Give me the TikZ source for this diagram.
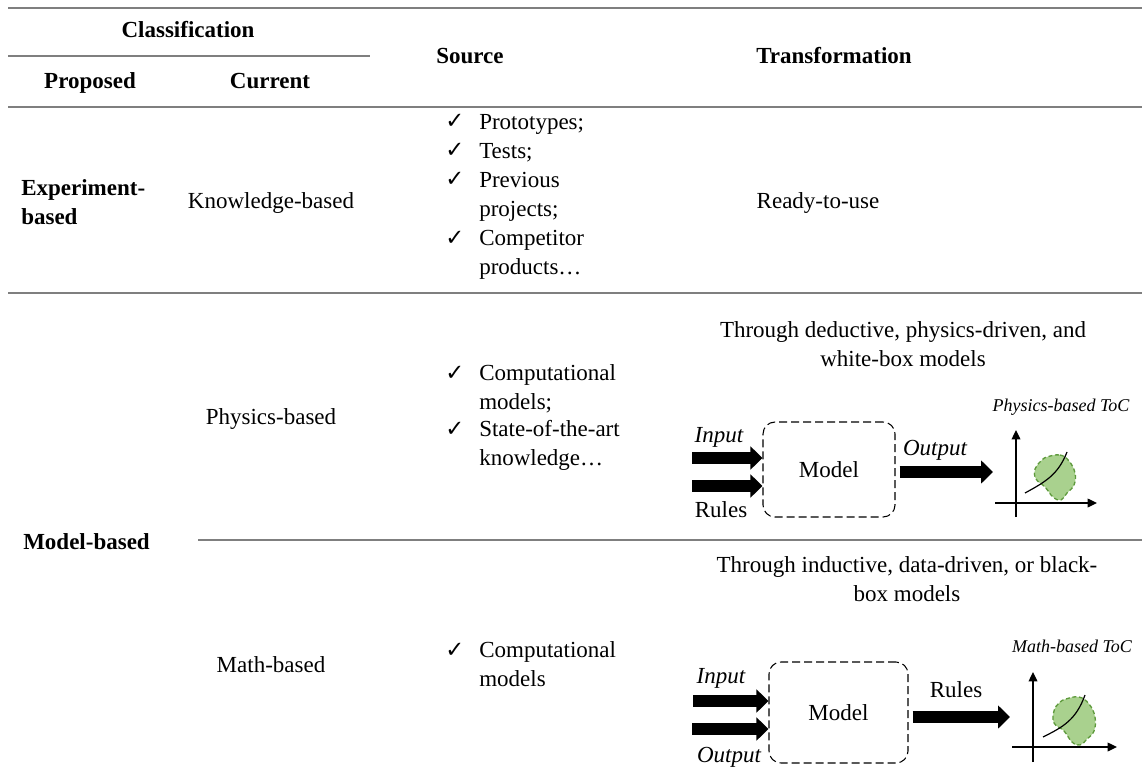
\documentclass[tikz,border=0pt]{standalone}
\usepackage{fontspec}
\setmainfont{Liberation Serif}
\newfontfamily\checkfont{DejaVu Sans}
\usetikzlibrary{arrows.meta}
\newcommand\bodysize{\fontsize{17.25pt}{21.75pt}\selectfont}
\newcommand\tocsize{\fontsize{13.5pt}{16pt}\selectfont}
\newcommand\lnhead{\rule{0pt}{12pt}}
\newcommand\tick{{\checkfont\fontsize{17pt}{20pt}\selectfont ✓}}
\definecolor{rulecol}{HTML}{7F7F7F}
\definecolor{blobfill}{HTML}{A9D18E}
\definecolor{blobline}{HTML}{5E9A3C}
\begin{document}
\begin{tikzpicture}[x=0.75pt,y=-0.75pt,
  tablerule/.style={draw=rulecol, line width=1.5pt},
  txt/.style={inner sep=0pt, font=\bodysize},
  hdr/.style={inner sep=0pt, font=\bodysize\bfseries},
  lbl/.style={inner sep=0pt, font=\bodysize\itshape},
  toc/.style={inner sep=0pt, font=\tocsize\itshape},
  modelbox/.style={draw, dash pattern=on 6pt off 3pt, rounded corners=9pt,
    line width=0.8pt, inner sep=0pt, font=\bodysize},
  fatarrow/.style={line width=8.5pt, -{Triangle[length=9pt,width=17pt]}},
  axis/.style={line width=1pt, -{Triangle[length=7pt,width=6.5pt]}},
  blob/.style={draw=blobline, fill=blobfill, dash pattern=on 3pt off 2pt, line width=1pt},
  trend/.style={line width=0.9pt}]
\useasboundingbox (0,0) rectangle (1142,781);

% table rules
\draw[tablerule] (8,8) -- (1142,8);
\draw[tablerule] (8,56) -- (370,56);
\draw[tablerule] (8,107) -- (1142,107);
\draw[tablerule] (8,293) -- (1142,293);
\draw[tablerule] (198,540) -- (1142,540);

% header
\node[hdr, anchor=base] (hclass) at (188,38) {Classification};
\node[hdr, anchor=base] (hprop) at (90,89) {Proposed};
\node[hdr, anchor=base] (hcurr) at (270,89) {Current};
\node[hdr, anchor=base] (hsrc) at (470,64) {Source};
\node[hdr, anchor=base] (htrans) at (834,64) {Transformation};

% experiment-based row
\node[hdr, anchor=north west, align=left] (pexp) at (21,179) {\lnhead Experiment-\\based};
\node[txt, anchor=base] (cknow) at (271,209) {Knowledge-based};
\node[txt, anchor=base west] (k1) at (445,129) {\tick};
\node[txt, anchor=north west, align=left] (s1) at (479,113) {\lnhead Prototypes;};
\node[txt, anchor=base west] (k2) at (445,158) {\tick};
\node[txt, anchor=north west, align=left] (s2) at (479,142) {\lnhead Tests;};
\node[txt, anchor=base west] (k3) at (445,187) {\tick};
\node[txt, anchor=north west, align=left] (s3) at (479,171) {\lnhead Previous\\projects;};
\node[txt, anchor=base west] (k4) at (445,245) {\tick};
\node[txt, anchor=north west, align=left] (s4) at (479,229) {\lnhead Competitor\\products…};
\node[txt, anchor=base] (tready) at (818,209) {Ready-to-use};

% model-based rows
\node[hdr, anchor=base west] (pmodel) at (23,549) {Model-based};

% physics-based
\node[txt, anchor=base] (cphys) at (271,424) {Physics-based};
\node[txt, anchor=base west] (k5) at (445,380) {\tick};
\node[txt, anchor=north west, align=left] (s5) at (479,364) {\lnhead Computational\\models;};
\node[txt, anchor=base west] (k6) at (445,436) {\tick};
\node[txt, anchor=north west, align=left] (s6) at (479,420) {\lnhead State-of-the-art\\knowledge…};
\node[txt, anchor=north, align=center] (tphys) at (903,321) {\lnhead Through deductive, physics-driven, and\\white-box models};

\node[modelbox, minimum width=99pt, minimum height=71.25pt] (m1) at (829,469.5) {Model};
\coordinate (pin1) at (692,458);
\coordinate (pin2) at (692,486);
\coordinate (pout) at (993,472);
\draw[fatarrow] (pin1) -- (pin1 -| m1.west);
\draw[fatarrow] (pin2) -- (pin2 -| m1.west);
\draw[fatarrow, shorten <=3pt] (pout -| m1.east) -- (pout);
\node[lbl] (linp1) at (719,437) {Input};
\node[txt] (lrul1) at (721,510) {Rules};
\node[lbl] (lout1) at (935,450) {Output};
\node[toc] (ltoc1) at (1061,407) {Physics-based ToC};
\draw[axis] (1016,517) -- (1016,430);
\draw[axis] (995,503) -- (1097,503);
\draw[blob] plot[smooth cycle, tension=0.7] coordinates {
  (1047,457) (1060,455) (1069,461) (1075,473) (1074,485) (1067,493)
  (1061,500) (1053,497) (1045,487) (1036,479) (1035,469) (1041,461)};
\draw[trend] (1025,493) .. controls (1045,482) and (1058,475) .. (1067,452);

% math-based
\node[txt, anchor=base] (cmath) at (271,672) {Math-based};
\node[txt, anchor=base west] (k7) at (445,657) {\tick};
\node[txt, anchor=north west, align=left] (s7) at (479,641) {\lnhead Computational\\models};
\node[txt, anchor=north, align=center] (tmath) at (907,556) {\lnhead Through inductive, data-driven, or black-\\box models};

\node[modelbox, minimum width=104.25pt, minimum height=75.75pt] (m2) at (838.5,712.5) {Model};
\coordinate (pin3) at (693,701);
\coordinate (pin4) at (692,729);
\coordinate (pout2) at (1010,717);
\draw[fatarrow] (pin3) -- (pin3 -| m2.west);
\draw[fatarrow] (pin4) -- (pin4 -| m2.west);
\draw[fatarrow, shorten <=3pt] (pout2 -| m2.east) -- (pout2);
\node[lbl] (linp2) at (721,678) {Input};
\node[lbl] (lout2) at (729,757) {Output};
\node[txt] (lrul2) at (956,690) {Rules};
\node[toc] (ltoc2) at (1072,646) {Math-based ToC};
\draw[axis] (1033,762) -- (1033,672);
\draw[axis] (1012,747) -- (1117,747);
\draw[blob] plot[smooth cycle, tension=0.7] coordinates {
  (1066,699) (1079,697) (1089,704) (1095,717) (1094,731) (1087,739)
  (1080,745) (1072,742) (1064,731) (1054,723) (1054,711) (1059,703)};
\draw[trend] (1043,737) .. controls (1063,727) and (1076,720) .. (1085,695);
\end{tikzpicture}
\end{document}
